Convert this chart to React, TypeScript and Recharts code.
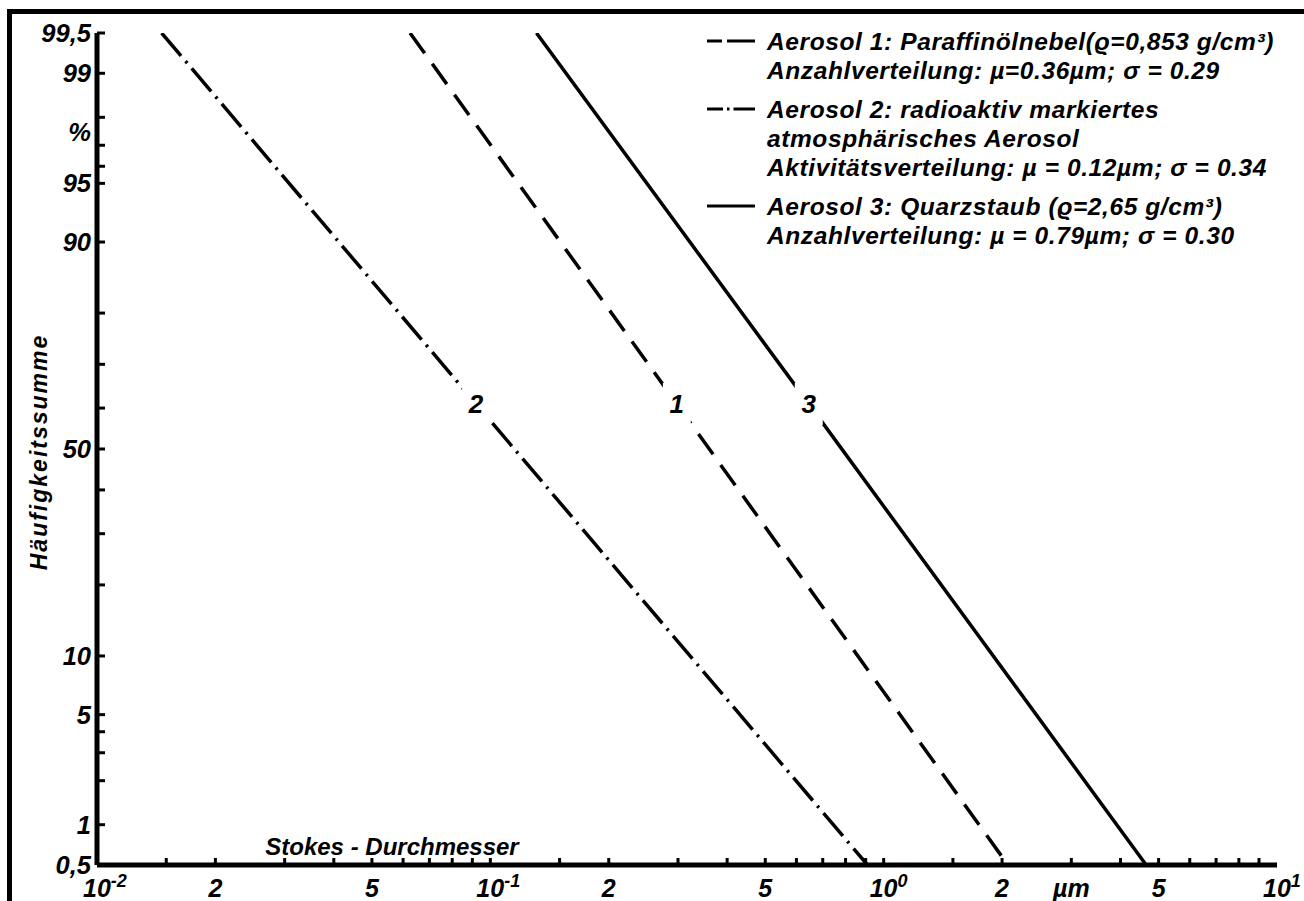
import { LineChart, Line, XAxis, YAxis, Legend, ReferenceDot } from "recharts";

// cumulative percentages (top end, label spot, bottom end)
const percents = [99.5, 61, 0.5];
// Stokes diameters in µm at those percentages
const aerosol1 = [0.0625, 0.298, 2.07];
const aerosol2 = [0.0146, 0.092, 0.91];
const aerosol3 = [0.131, 0.645, 4.65];
const lineNames = ["1", "2", "3"];

const xTicks = [
  0.01, 0.015, 0.02, 0.03, 0.04, 0.05, 0.06, 0.07, 0.08, 0.09,
  0.1, 0.15, 0.2, 0.3, 0.4, 0.5, 0.6, 0.7, 0.8, 0.9,
  1, 1.5, 2, 3, 4, 5, 6, 7, 8, 9, 10,
];
const xLabelValues = [0.01, 0.02, 0.05, 0.1, 0.2, 0.5, 1, 2, 3, 5, 10];
const xLabelBase = ["10", "2", "5", "10", "2", "5", "10", "2", "µm", "5", "10"];
const xLabelExp = ["-2", "", "", "-1", "", "", "0", "", "", "", "1"];

const yTickPercents = [99.5, 99, 98, 97, 96, 95, 90, 80, 70, 60, 50, 40, 30, 20, 10, 5, 4, 3, 2, 1, 0.5];
const yLabelPercents = [99.5, 99, 97.5, 95, 90, 50, 10, 5, 1, 0.5];
const yLabelTexts = ["99,5", "99", "%", "95", "90", "50", "10", "5", "1", "0,5"];

const legendRows = [
  {
    dash: "15 5 28 200",
    lines: ["Aerosol 1: Paraffinölnebel(ϱ=0,853 g/cm³)", "Anzahlverteilung: µ=0.36µm; σ = 0.29"],
  },
  {
    dash: "16 4 2.5 4 22 200",
    lines: ["Aerosol 2: radioaktiv markiertes", "atmosphärisches Aerosol", "Aktivitätsverteilung: µ = 0.12µm; σ = 0.34"],
  },
  {
    dash: undefined,
    lines: ["Aerosol 3: Quarzstaub (ϱ=2,65 g/cm³)", "Anzahlverteilung: µ = 0.79µm; σ = 0.30"],
  },
];

// inverse of the normal distribution (probability paper ordinate)
function probit(p: number): number {
  const a = [-39.69683028665376, 220.9460984245205, -275.9285104469687, 138.357751867269, -30.66479806614716, 2.506628277459239];
  const b = [-54.47609879822406, 161.5858368580409, -155.6989798598866, 66.80131188771972, -13.28068155288572];
  const c = [-0.007784894002430293, -0.3223964580411365, -2.400758277161838, -2.549732539343734, 4.374664141464968, 2.938163982698783];
  const d = [0.007784695709041462, 0.3224671290700398, 2.445134137142996, 3.754408661907416];
  const plow = 0.02425;
  if (p < plow) {
    const q = Math.sqrt(-2 * Math.log(p));
    return (((((c[0] * q + c[1]) * q + c[2]) * q + c[3]) * q + c[4]) * q + c[5]) / ((((d[0] * q + d[1]) * q + d[2]) * q + d[3]) * q + 1);
  }
  if (p > 1 - plow) {
    const q = Math.sqrt(-2 * Math.log(1 - p));
    return -(((((c[0] * q + c[1]) * q + c[2]) * q + c[3]) * q + c[4]) * q + c[5]) / ((((d[0] * q + d[1]) * q + d[2]) * q + d[3]) * q + 1);
  }
  const q = p - 0.5;
  const r = q * q;
  return ((((((a[0] * r + a[1]) * r + a[2]) * r + a[3]) * r + a[4]) * r + a[5]) * q) / (((((b[0] * r + b[1]) * r + b[2]) * r + b[3]) * r + b[4]) * r + 1);
}

const z = (pct: number) => probit(pct / 100);

const toSeries = (diams: number[]) => diams.map((dm, i) => ({ d: dm, z: z(percents[i]) }));
const series = [toSeries(aerosol1), toSeries(aerosol2), toSeries(aerosol3)];

const yTickAll = Array.from(new Set([...yTickPercents, ...yLabelPercents])).sort((p, q) => q - p);
const yTickZ = yTickAll.map(z);

const FONT = "'Liberation Sans', Arial, sans-serif";
const textStyle = { fontFamily: FONT, fontWeight: 700, fontStyle: "italic" as const, fill: "#000" };

const XTick = (props: any) => {
  const { x, y, payload } = props;
  const v = payload.value as number;
  const li = xLabelValues.indexOf(v);
  const edge = v === 0.01 || v === 10;
  return (
    <g>
      {!edge && <line x1={x} x2={x} y1={y} y2={y - 7} stroke="#000" strokeWidth={3} />}
      {li >= 0 && (
        <text x={xLabelExp[li] ? x - 14 : x} y={y + 32} textAnchor={xLabelExp[li] ? "start" : "middle"} fontSize={25} style={textStyle}>
          {xLabelBase[li]}
          {xLabelExp[li] && (
            <tspan dy={-10} fontSize={18}>
              {xLabelExp[li]}
            </tspan>
          )}
        </text>
      )}
    </g>
  );
};

const YTick = (props: any) => {
  const { x, y, payload } = props;
  const v = payload.value as number;
  let idx = 0;
  yTickZ.forEach((t, i) => {
    if (Math.abs(t - v) < Math.abs(yTickZ[idx] - v)) idx = i;
  });
  const pct = yTickAll[idx];
  const li = yLabelPercents.indexOf(pct);
  const hasTick = yTickPercents.indexOf(pct) >= 0;
  return (
    <g>
      {hasTick && <line x1={x} x2={x + 8} y1={y} y2={y} stroke="#000" strokeWidth={3} />}
      {li >= 0 && (
        <text x={x - 6} y={y + 9} textAnchor="end" fontSize={25.5} style={textStyle}>
          {yLabelTexts[li]}
        </text>
      )}
    </g>
  );
};

const LegendBox = () => {
  let yy = 50;
  const items: any[] = [];
  legendRows.forEach((row, ri) => {
    items.push(
      <line key={"s" + ri} x1={7} x2={55} y1={yy - 9} y2={yy - 9} stroke="#000" strokeWidth={3} strokeDasharray={row.dash} />
    );
    row.lines.forEach((t, li) => {
      items.push(
        <text key={ri + "-" + li} x={67} y={yy} fontSize={24.5} letterSpacing={0.6} style={textStyle}>
          {t}
        </text>
      );
      yy += 29;
    });
    yy += 10;
  });
  return (
    <svg width={604} height={260} style={{ display: "block" }}>
      {items}
    </svg>
  );
};

const lineLabel = (name: string) => (props: any) => {
  const { cx, cy } = props;
  return (
    <g>
      <rect x={cx - 14} y={cy - 21} width={28} height={42} fill="#fff" />
      <text x={cx} y={cy + 9} textAnchor="middle" fontSize={26} style={textStyle}>
        {name}
      </text>
    </g>
  );
};

export default function App() {
  return (
    <div style={{ position: "absolute", left: 0, top: 0, width: 1304, height: 901, background: "#fff" }}>
      <div
        style={{
          position: "absolute",
          left: 7,
          top: 9,
          width: 1400,
          height: 1000,
          borderLeft: "5px solid #000",
          borderTop: "5px solid #000",
        }}
      />
      <LineChart width={1304} height={901} margin={{ top: 33, right: 27, bottom: 0, left: 7 }}>
        <XAxis
          dataKey="d"
          type="number"
          scale="log"
          domain={[0.01, 10]}
          ticks={xTicks}
          interval={0}
          allowDataOverflow
          height={36}
          tickSize={0}
          tickMargin={0}
          tick={<XTick />}
          axisLine={{ stroke: "#000", strokeWidth: 5 }}
          label={{
            content: (p: any) => (
              <text x={p.viewBox.x + 295} y={p.viewBox.y - 10} textAnchor="middle" fontSize={24} style={textStyle}>
                Stokes - Durchmesser
              </text>
            ),
          }}
        />
        <YAxis
          type="number"
          domain={[z(0.5), z(99.5)]}
          ticks={yTickZ}
          interval={0}
          allowDataOverflow
          width={90}
          tickSize={0}
          tickMargin={0}
          tick={<YTick />}
          axisLine={{ stroke: "#000", strokeWidth: 5 }}
          label={{
            content: (p: any) => {
              const cx = p.viewBox.x + 40;
              const cy = p.viewBox.y + p.viewBox.height / 2 + 3;
              return (
                <text
                  x={cx}
                  y={cy}
                  transform={`rotate(-90 ${cx} ${cy})`}
                  textAnchor="middle"
                  fontSize={23}
                  letterSpacing={2}
                  style={textStyle}
                >
                  Häufigkeitssumme
                </text>
              );
            },
          }}
        />
        <Legend
          layout="vertical"
          align="center"
          verticalAlign="middle"
          content={<LegendBox />}
          wrapperStyle={{ left: 700, top: 0, width: 604 }}
        />
        <Line data={series[0]} dataKey="z" stroke="#000" strokeWidth={3.5} strokeDasharray="25 13" dot={false} activeDot={false} isAnimationActive={false} />
        <Line data={series[1]} dataKey="z" stroke="#000" strokeWidth={3.5} strokeDasharray="30 7 2.5 7" dot={false} activeDot={false} isAnimationActive={false} />
        <Line data={series[2]} dataKey="z" stroke="#000" strokeWidth={3.5} dot={false} activeDot={false} isAnimationActive={false} />
        {series.map((s, i) => (
          <ReferenceDot key={i} x={s[1].d} y={s[1].z} r={0} shape={lineLabel(lineNames[i])} />
        ))}
      </LineChart>
    </div>
  );
}
